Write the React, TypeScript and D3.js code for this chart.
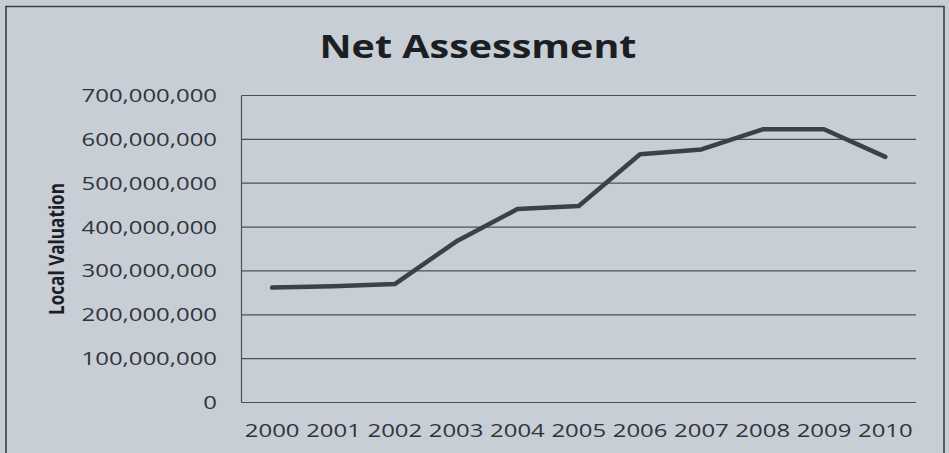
import React from "react";
import * as d3 from "d3";

const years = ["2000", "2001", "2002", "2003", "2004", "2005", "2006", "2007", "2008", "2009", "2010"];
const netAssessment = [262e6, 265e6, 270e6, 367e6, 441e6, 448e6, 566e6, 577e6, 623e6, 623e6, 560e6];
const yTicks = [0, 100e6, 200e6, 300e6, 400e6, 500e6, 600e6, 700e6];
const title = "Net Assessment";
const yLabel = "Local Valuation";

const W = 949;
const H = 453;
const plot = { left: 241.5, right: 916, top: 95.5, bottom: 402.5 };
const SX = 1.33;
const BG = "#c7ced5";
const FONT = "'Open Sans', 'Noto Sans', sans-serif";

export default function App() {
  const x = d3
    .scalePoint<string>()
    .domain(years)
    .range([plot.left, plot.right])
    .padding(0.5);
  const y = d3.scaleLinear().domain([0, 700e6]).range([plot.bottom, plot.top]);
  const fmt = d3.format(",");
  const line = d3
    .line<number>()
    .x((_, i) => x(years[i]) as number)
    .y((d) => y(d));

  return (
    <svg
      width={W}
      height={H}
      style={{ position: "absolute", left: 0, top: 0, display: "block" }}
    >
      <rect x={0} y={0} width={W} height={H} fill={BG} />
      {/* frame */}
      <path
        d={`M6,${H + 5} L6,6.5 L944,6.5 L944,${H + 5}`}
        fill="none"
        stroke="#3c4045"
        strokeWidth={1.6}
      />
      {/* title */}
      <text
        x={478}
        y={58}
        textAnchor="middle"
        fontFamily={FONT}
        fontWeight={700}
        fontSize={32}
        fill="#1b1e23"
        textLength={317}
        lengthAdjust="spacingAndGlyphs"
      >
        {title}
      </text>
      {/* gridlines */}
      {yTicks.map((t) => (
        <line
          key={"g" + t}
          x1={plot.left}
          x2={plot.right}
          y1={y(t)}
          y2={y(t)}
          stroke="#4b5056"
          strokeWidth={1.2}
        />
      ))}
      {/* y axis line */}
      <line
        x1={plot.left}
        x2={plot.left}
        y1={plot.top}
        y2={plot.bottom}
        stroke="#4b5056"
        strokeWidth={1.2}
      />
      {/* y tick labels */}
      {yTicks.map((t) => (
        <g key={"t" + t} transform={`translate(217,${y(t)}) scale(${SX},1)`}>
          <text
            textAnchor="end"
            dy="0.36em"
            fontFamily={FONT}
            fontSize={18}
            fill="#30353b"
          >
            {fmt(t)}
          </text>
        </g>
      ))}
      {/* x tick labels */}
      {years.map((yr) => (
        <g key={"x" + yr} transform={`translate(${x(yr)},437) scale(${SX},1)`}>
          <text textAnchor="middle" fontFamily={FONT} fontSize={18} fill="#30353b">
            {yr}
          </text>
        </g>
      ))}
      {/* y axis label */}
      <g transform={`translate(64,249) scale(${SX},1) rotate(-90)`}>
        <text
          textAnchor="middle"
          fontFamily={FONT}
          fontWeight={700}
          fontSize={16}
          fill="#1b1e23"
          textLength={132}
          lengthAdjust="spacingAndGlyphs"
        >
          {yLabel}
        </text>
      </g>
      {/* data line */}
      <path
        d={line(netAssessment) ?? ""}
        fill="none"
        stroke="#3c4147"
        strokeWidth={4.5}
        strokeLinejoin="round"
        strokeLinecap="round"
      />
    </svg>
  );
}
